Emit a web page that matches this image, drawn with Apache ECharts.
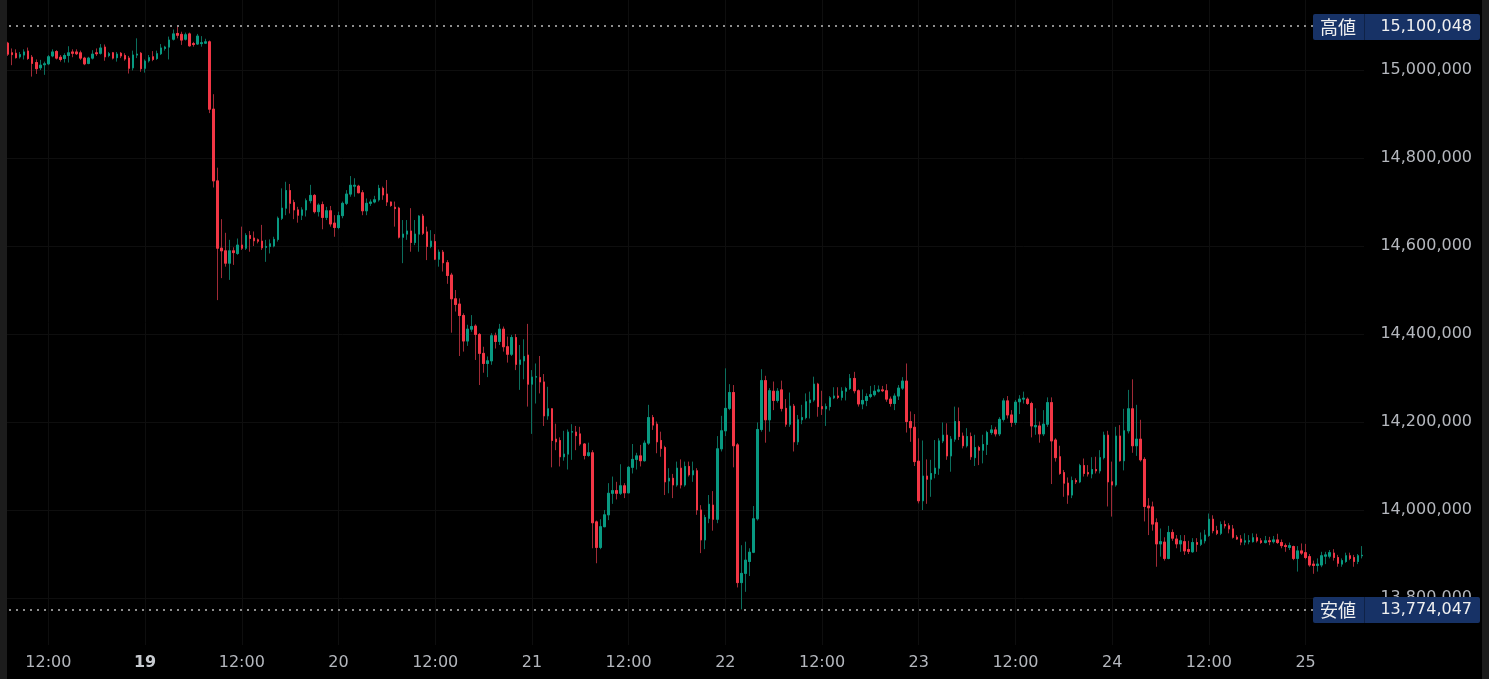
<!DOCTYPE html>
<html>
<head>
<meta charset="utf-8">
<script src="https://cdn.jsdelivr.net/npm/echarts@6/dist/echarts.min.js"></script>
<style>
html,body{margin:0;padding:0;background:#000;}
#c{width:1489px;height:679px;}
</style>
</head>
<body>
<div id="c"></div>
<script>
// 30-minute candles, first one at day 18 06:30
const startDay = 18;
const startMinute = 6 * 60 + 30;
const stepMinutes = 30;
const xTickTimes = ['00:00', '12:00'];
const boldDays = ['19'];

const opens = [
15050000,15061000,15039000,15038000,15030000,15034000,15043000,15029000,15017000,15005000,
15012000,15014000,15032000,15042000,15029000,15026000,15033000,15041000,15041000,15039000,
15027000,15015000,15027000,15039000,15038000,15052000,15033000,15039000,15028000,15038000,
15033000,15027000,15005000,15034000,15038000,15004000,15021000,15030000,15026000,15037000,
15049000,15052000,15070000,15083000,15081000,15070000,15082000,15060000,15059000,15060000,
15061000,15064000,14911000,14748000,14595000,14589000,14561000,14589000,14583000,14602000,
14595000,14624000,14618000,14614000,14611000,14597000,14599000,14600000,14615000,14663000,
14686000,14726000,14699000,14682000,14670000,14682000,14703000,14715000,14678000,14694000,
14665000,14680000,14652000,14642000,14669000,14697000,14718000,14736000,14736000,14721000,
14680000,14697000,14700000,14705000,14731000,14718000,14700000,14688000,14686000,14620000,
14627000,14634000,14608000,14627000,14668000,14632000,14599000,14610000,14570000,14586000,
14562000,14534000,14480000,14468000,14442000,14384000,14411000,14418000,14399000,14356000,
14333000,14339000,14396000,14383000,14411000,14371000,14354000,14392000,14331000,14339000,
14352000,14286000,14302000,14301000,14291000,14214000,14230000,14161000,14158000,14121000,
14127000,14177000,14177000,14173000,14150000,14124000,14130000,13973000,13915000,13962000,
13989000,14038000,14044000,14038000,14055000,14039000,14097000,14115000,14123000,14112000,
14152000,14210000,14195000,14158000,14142000,14066000,14072000,14057000,14095000,14057000,
14099000,14080000,14089000,14000000,13932000,13981000,14011000,13979000,14139000,14180000,
14231000,14267000,14148000,13835000,13856000,13883000,13904000,13980000,14183000,14294000,
14205000,14270000,14249000,14273000,14231000,14195000,14236000,14155000,14205000,14210000,
14244000,14250000,14286000,14235000,14230000,14235000,14255000,14259000,14256000,14270000,
14276000,14299000,14271000,14241000,14249000,14258000,14262000,14270000,14273000,14271000,
14252000,14242000,14259000,14277000,14293000,14201000,14188000,14111000,14021000,14077000,
14070000,14083000,14095000,14157000,14170000,14123000,14161000,14201000,14168000,14146000,
14167000,14119000,14142000,14136000,14149000,14176000,14182000,14173000,14206000,14248000,
14216000,14199000,14246000,14252000,14252000,14242000,14189000,14191000,14173000,14195000,
14244000,14159000,14121000,14085000,14061000,14034000,14067000,14064000,14101000,14085000,
14082000,14092000,14089000,14119000,14170000,14064000,14057000,14168000,14112000,14180000,
14230000,14146000,14161000,14115000,14009000,14007000,13971000,13923000,13927000,13890000,
13949000,13934000,13923000,13928000,13910000,13905000,13926000,13922000,13930000,13942000,
13979000,13953000,13947000,13967000,13964000,13957000,13938000,13934000,13927000,13928000,
13928000,13937000,13930000,13926000,13930000,13928000,13932000,13926000,13919000,13915000,
13917000,13890000,13907000,13903000,13894000,13877000,13874000,13875000,13895000,13895000,
13902000,13892000,13877000,13883000,13896000,13892000,13883000,13896000
];
const closes = [
15060000,15036000,15035000,15028000,15035000,15041000,15026000,15015000,15003000,15011000,
15014000,15030000,15041000,15027000,15024000,15033000,15039000,15038000,15037000,15027000,
15014000,15027000,15036000,15037000,15050000,15030000,15037000,15027000,15036000,15032000,
15025000,15004000,15034000,15036000,15003000,15020000,15028000,15024000,15037000,15050000,
15052000,15068000,15082000,15079000,15068000,15080000,15055000,15058000,15077000,15062000,
15064000,14911000,14748000,14595000,14589000,14561000,14589000,14585000,14602000,14595000,
14624000,14617000,14612000,14611000,14596000,14599000,14605000,14615000,14663000,14686000,
14726000,14697000,14682000,14670000,14682000,14703000,14715000,14678000,14693000,14665000,
14680000,14650000,14642000,14669000,14697000,14718000,14738000,14738000,14721000,14680000,
14697000,14700000,14705000,14731000,14716000,14700000,14692000,14685000,14620000,14627000,
14634000,14608000,14627000,14668000,14629000,14599000,14611000,14570000,14586000,14562000,
14533000,14480000,14467000,14442000,14384000,14411000,14417000,14399000,14356000,14333000,
14339000,14396000,14383000,14411000,14371000,14354000,14392000,14331000,14341000,14349000,
14286000,14302000,14303000,14291000,14214000,14230000,14158000,14155000,14121000,14127000,
14177000,14178000,14169000,14150000,14124000,14130000,13971000,13915000,13962000,13989000,
14038000,14044000,14038000,14055000,14039000,14097000,14115000,14123000,14112000,14152000,
14210000,14193000,14155000,14140000,14064000,14072000,14057000,14095000,14057000,14099000,
14080000,14089000,14000000,13932000,13983000,14013000,13979000,14139000,14180000,14231000,
14267000,14146000,13835000,13856000,13886000,13904000,13980000,14183000,14294000,14205000,
14271000,14249000,14270000,14231000,14195000,14236000,14155000,14205000,14210000,14246000,
14250000,14286000,14235000,14230000,14235000,14255000,14259000,14256000,14270000,14276000,
14299000,14271000,14241000,14249000,14258000,14262000,14270000,14273000,14271000,14252000,
14242000,14259000,14277000,14293000,14201000,14187000,14110000,14021000,14077000,14070000,
14083000,14095000,14157000,14170000,14123000,14161000,14201000,14167000,14146000,14167000,
14121000,14142000,14136000,14149000,14176000,14182000,14173000,14206000,14248000,14216000,
14199000,14245000,14252000,14254000,14242000,14191000,14192000,14173000,14195000,14244000,
14157000,14119000,14083000,14061000,14034000,14067000,14064000,14101000,14083000,14082000,
14092000,14089000,14119000,14170000,14064000,14057000,14168000,14112000,14180000,14230000,
14146000,14161000,14114000,14008000,14005000,13968000,13923000,13928000,13890000,13949000,
13936000,13923000,13930000,13907000,13906000,13926000,13922000,13932000,13943000,13979000,
13953000,13947000,13967000,13964000,13957000,13938000,13934000,13927000,13930000,13930000,
13937000,13930000,13926000,13930000,13928000,13932000,13926000,13919000,13917000,13919000,
13890000,13907000,13902000,13892000,13875000,13874000,13877000,13896000,13898000,13903000,
13892000,13879000,13885000,13896000,13890000,13883000,13896000,13897000
];
const lows = [
15040000,15032000,15011000,15026000,15026000,15024000,15023000,14985000,14991000,15000000,
14989000,15011000,15029000,15024000,15019000,15017000,15017000,15029000,15034000,15023000,
15011000,15013000,15024000,15032000,15035000,15021000,15029000,15024000,15019000,15027000,
15021000,14992000,14999000,15027000,14996000,14994000,15017000,15020000,15023000,15034000,
15044000,15024000,15067000,15072000,15057000,15067000,15053000,15053000,15057000,15053000,
15059000,14902000,14733000,14477000,14527000,14553000,14523000,14557000,14580000,14591000,
14591000,14587000,14600000,14606000,14591000,14564000,14583000,14597000,14610000,14659000,
14670000,14674000,14661000,14653000,14659000,14667000,14697000,14674000,14667000,14638000,
14659000,14644000,14621000,14638000,14663000,14693000,14712000,14712000,14720000,14670000,
14670000,14691000,14697000,14701000,14705000,14691000,14689000,14644000,14617000,14561000,
14614000,14587000,14602000,14587000,14625000,14568000,14595000,14568000,14553000,14542000,
14514000,14403000,14451000,14350000,14360000,14373000,14405000,14341000,14284000,14312000,
14302000,14330000,14367000,14375000,14360000,14335000,14350000,14318000,14273000,14297000,
14235000,14173000,14242000,14265000,14191000,14205000,14097000,14136000,14099000,14112000,
14092000,14114000,14136000,14146000,14115000,14121000,13913000,13879000,13911000,13961000,
13977000,14014000,14024000,14034000,14027000,14038000,14083000,14092000,14099000,14110000,
14148000,14182000,14129000,14121000,14034000,14038000,14027000,14053000,14049000,14053000,
14076000,14064000,13989000,13902000,13911000,13970000,13953000,13970000,14133000,14168000,
14227000,14097000,13824000,13774047,13814000,13850000,13902000,13976000,14178000,14153000,
14178000,14227000,14244000,14224000,14189000,14189000,14133000,14148000,14195000,14206000,
14208000,14246000,14212000,14216000,14191000,14226000,14252000,14252000,14249000,14249000,
14273000,14265000,14235000,14229000,14236000,14254000,14258000,14267000,14268000,14246000,
14235000,14227000,14250000,14273000,14176000,14155000,14100000,14015000,14000000,14014000,
14030000,14072000,14080000,14152000,14114000,14087000,14155000,14159000,14140000,14142000,
14114000,14100000,14102000,14106000,14125000,14171000,14167000,14168000,14201000,14208000,
14189000,14193000,14218000,14242000,14239000,14165000,14171000,14153000,14168000,14189000,
14059000,14110000,14080000,14030000,14014000,14027000,14059000,14061000,14076000,14076000,
14072000,14083000,14083000,14115000,14008000,13985000,14053000,14110000,14090000,14174000,
14130000,14123000,14110000,13974000,13943000,13953000,13871000,13894000,13885000,13888000,
13930000,13913000,13905000,13898000,13900000,13903000,13905000,13918000,13924000,13939000,
13947000,13943000,13943000,13958000,13947000,13935000,13932000,13920000,13920000,13922000,
13926000,13926000,13923000,13924000,13920000,13924000,13923000,13913000,13905000,13909000,
13886000,13860000,13898000,13888000,13871000,13855000,13860000,13870000,13877000,13890000,
13885000,13871000,13871000,13880000,13886000,13871000,13877000,13890000
];
const highs = [
15065000,15064000,15049000,15047000,15041000,15047000,15051000,15034000,15024000,15023000,
15019000,15034000,15047000,15045000,15034000,15038000,15054000,15047000,15047000,15044000,
15030000,15030000,15045000,15049000,15059000,15058000,15041000,15041000,15041000,15041000,
15038000,15032000,15044000,15072000,15041000,15024000,15034000,15043000,15044000,15059000,
15055000,15076000,15092000,15100048,15087000,15085000,15085000,15064000,15082000,15077000,
15071000,15067000,14945000,14778000,14661000,14630000,14614000,14597000,14617000,14644000,
14629000,14634000,14633000,14617000,14648000,14614000,14615000,14621000,14667000,14731000,
14746000,14741000,14705000,14689000,14688000,14708000,14739000,14718000,14697000,14701000,
14689000,14691000,14670000,14678000,14701000,14727000,14759000,14754000,14739000,14727000,
14708000,14706000,14714000,14739000,14735000,14750000,14701000,14701000,14689000,14659000,
14659000,14686000,14659000,14670000,14673000,14644000,14636000,14627000,14592000,14591000,
14568000,14539000,14500000,14481000,14447000,14421000,14443000,14422000,14402000,14371000,
14349000,14402000,14403000,14423000,14417000,14394000,14398000,14400000,14375000,14388000,
14423000,14318000,14333000,14350000,14309000,14280000,14231000,14196000,14165000,14180000,
14183000,14195000,14191000,14189000,14152000,14153000,14136000,13976000,13979000,14000000,
14061000,14076000,14064000,14104000,14061000,14100000,14150000,14130000,14148000,14158000,
14239000,14216000,14201000,14178000,14146000,14095000,14082000,14110000,14115000,14110000,
14110000,14110000,14095000,14011000,13989000,14034000,14043000,14168000,14214000,14322000,
14286000,14284000,14152000,13920000,13928000,13913000,14009000,14199000,14320000,14305000,
14277000,14292000,14277000,14294000,14252000,14267000,14241000,14216000,14239000,14265000,
14269000,14303000,14289000,14271000,14242000,14259000,14279000,14279000,14279000,14280000,
14309000,14314000,14274000,14274000,14265000,14282000,14284000,14283000,14282000,14286000,
14258000,14265000,14284000,14302000,14333000,14224000,14218000,14163000,14158000,14115000,
14114000,14159000,14163000,14199000,14197000,14168000,14235000,14233000,14176000,14186000,
14176000,14171000,14146000,14171000,14180000,14193000,14189000,14211000,14254000,14259000,
14227000,14250000,14261000,14269000,14256000,14246000,14231000,14201000,14227000,14256000,
14256000,14163000,14146000,14091000,14074000,14076000,14072000,14105000,14117000,14102000,
14120000,14121000,14136000,14178000,14180000,14110000,14189000,14193000,14230000,14273000,
14297000,14239000,14205000,14120000,14027000,14019000,13981000,13958000,13938000,13964000,
13956000,13943000,13943000,13943000,13930000,13936000,13936000,13949000,13955000,13992000,
13988000,13964000,13974000,13976000,13970000,13966000,13943000,13943000,13947000,13943000,
13947000,13946000,13936000,13941000,13939000,13941000,13946000,13933000,13924000,13926000,
13919000,13918000,13924000,13923000,13900000,13885000,13890000,13905000,13905000,13909000,
13911000,13898000,13890000,13903000,13903000,13898000,13900000,13918000
];

const yMin = 13600000, yMax = 15200000, yInterval = 200000;
const marks = [
  { name: '高値', value: 15100048 },
  { name: '安値', value: 13774047 }
];

// category labels "DD HH:MM"
const pad = n => (n < 10 ? '0' : '') + n;
const categories = opens.map((_, k) => {
  const m = startMinute + k * stepMinutes;
  const d = startDay + Math.floor(m / 1440);
  const mm = m % 1440;
  return d + ' ' + pad(Math.floor(mm / 60)) + ':' + pad(mm % 60);
});
const isMajor = (idx, val) => xTickTimes.indexOf(String(val).split(' ')[1]) >= 0;

const UP = '#089981', DOWN = '#f23645';
const UP_WICK = '#0b6e5d', DOWN_WICK = '#a02a36';
const FONT = 'DejaVu Sans';
const LABEL_COLOR = '#b4b7bd';
const GRID_COLOR = '#0e0e0e';

const wickData = opens.map((o, k) => [o, closes[k], lows[k], highs[k]]);
const bodyData = opens.map((o, k) => [o, closes[k], Math.min(o, closes[k]), Math.max(o, closes[k])]);

// layout: candle band width derived from plot width
const plotLeft = 2, plotRight = 125, W = 1489;
const band = (W - plotLeft - plotRight) / categories.length;

const chart = echarts.init(document.getElementById('c'));
chart.setOption({
  backgroundColor: '#000000',
  animation: false,
  grid: [
    { left: plotLeft, right: plotRight, top: -18, bottom: -7, containLabel: false, outerBoundsMode: 'none' },
    { left: plotLeft + band / 2, right: plotRight + band / 2, top: 0, height: 645, containLabel: false, outerBoundsMode: 'none' }
  ],
  xAxis: [
    { type: 'category', gridIndex: 0, data: categories, boundaryGap: true, show: false },
    {
      type: 'category', gridIndex: 1, data: categories, boundaryGap: false,
      axisLine: { show: false },
      axisTick: { show: false, interval: isMajor },
      axisLabel: {
        interval: isMajor, margin: 10, color: LABEL_COLOR, fontSize: 16, fontFamily: FONT,
        formatter: v => {
          const [d, t] = v.split(' ');
          if (t === '00:00') return boldDays.indexOf(d) >= 0 ? '{b|' + d + '}' : d;
          return t;
        },
        rich: { b: { fontWeight: 'bold', color: '#c8cbd0', fontSize: 16, fontFamily: FONT } }
      },
      splitLine: { show: true, interval: isMajor, lineStyle: { color: GRID_COLOR, width: 1 } }
    }
  ],
  yAxis: [
    {
      type: 'value', gridIndex: 0, position: 'right', min: yMin, max: yMax, interval: yInterval,
      axisLine: { show: false }, axisTick: { show: false },
      axisLabel: {
        color: LABEL_COLOR, fontSize: 16, fontFamily: FONT, align: 'right', margin: 108,
        showMinLabel: false, showMaxLabel: false,
        formatter: v => v.toLocaleString('en-US')
      },
      splitLine: { show: true, lineStyle: { color: GRID_COLOR, width: 1 } }
    },
    { type: 'value', gridIndex: 1, show: false, min: 0, max: 1 }
  ],
  series: [
    {
      type: 'candlestick', xAxisIndex: 0, yAxisIndex: 0, data: wickData, barWidth: 2,
      itemStyle: { color: UP_WICK, color0: DOWN_WICK, borderColor: UP_WICK, borderColor0: DOWN_WICK, borderWidth: 1 },
      markLine: {
        silent: true, symbol: ['none', 'none'], animation: false,
        label: { show: false },
        lineStyle: { color: '#8e8e8e', type: [2, 5], width: 2 },
        data: marks.map(m => ({ yAxis: m.value }))
      }
    },
    {
      type: 'candlestick', xAxisIndex: 0, yAxisIndex: 0, data: bodyData, barWidth: 2,
      itemStyle: { color: UP, color0: DOWN, borderColor: UP, borderColor0: DOWN, borderWidth: 1 }
    }
  ]
});

// price tags for high / low, positioned from the y axis
const boxLeft = 1313, boxDivider = 1364, boxRight = 1480, boxH = 26;
const graphics = [
  { type: 'rect', shape: { x: 0, y: 0, width: 7, height: 679 }, style: { fill: '#1c1c1c' }, z: 100 },
  { type: 'rect', shape: { x: 1482, y: 0, width: 7, height: 679 }, style: { fill: '#1c1c1c' }, z: 100 }
];
marks.forEach(m => {
  const y = chart.convertToPixel({ yAxisIndex: 0 }, m.value);
  const top = Math.round(y) - 12;
  graphics.push(
    { type: 'rect', shape: { x: boxLeft, y: top, width: boxRight - boxLeft, height: boxH, r: 2 }, style: { fill: '#173266' }, z: 100 },
    { type: 'rect', shape: { x: boxDivider, y: top, width: 1, height: boxH }, style: { fill: '#0f2247' }, z: 101 },
    { type: 'text', x: boxLeft + 7, y: top + boxH / 2, style: { text: m.name, fill: '#f0f0f0', font: '18px "Noto Sans CJK JP"', textVerticalAlign: 'middle', verticalAlign: 'middle' }, z: 102 },
    { type: 'text', x: 1472, y: top + boxH / 2, style: { text: m.value.toLocaleString('en-US'), fill: '#f0f0f0', font: '16px "DejaVu Sans"', textAlign: 'right', align: 'right', verticalAlign: 'middle', textVerticalAlign: 'middle' }, z: 102 }
  );
});
chart.setOption({ graphic: graphics });
</script>
</body>
</html>
